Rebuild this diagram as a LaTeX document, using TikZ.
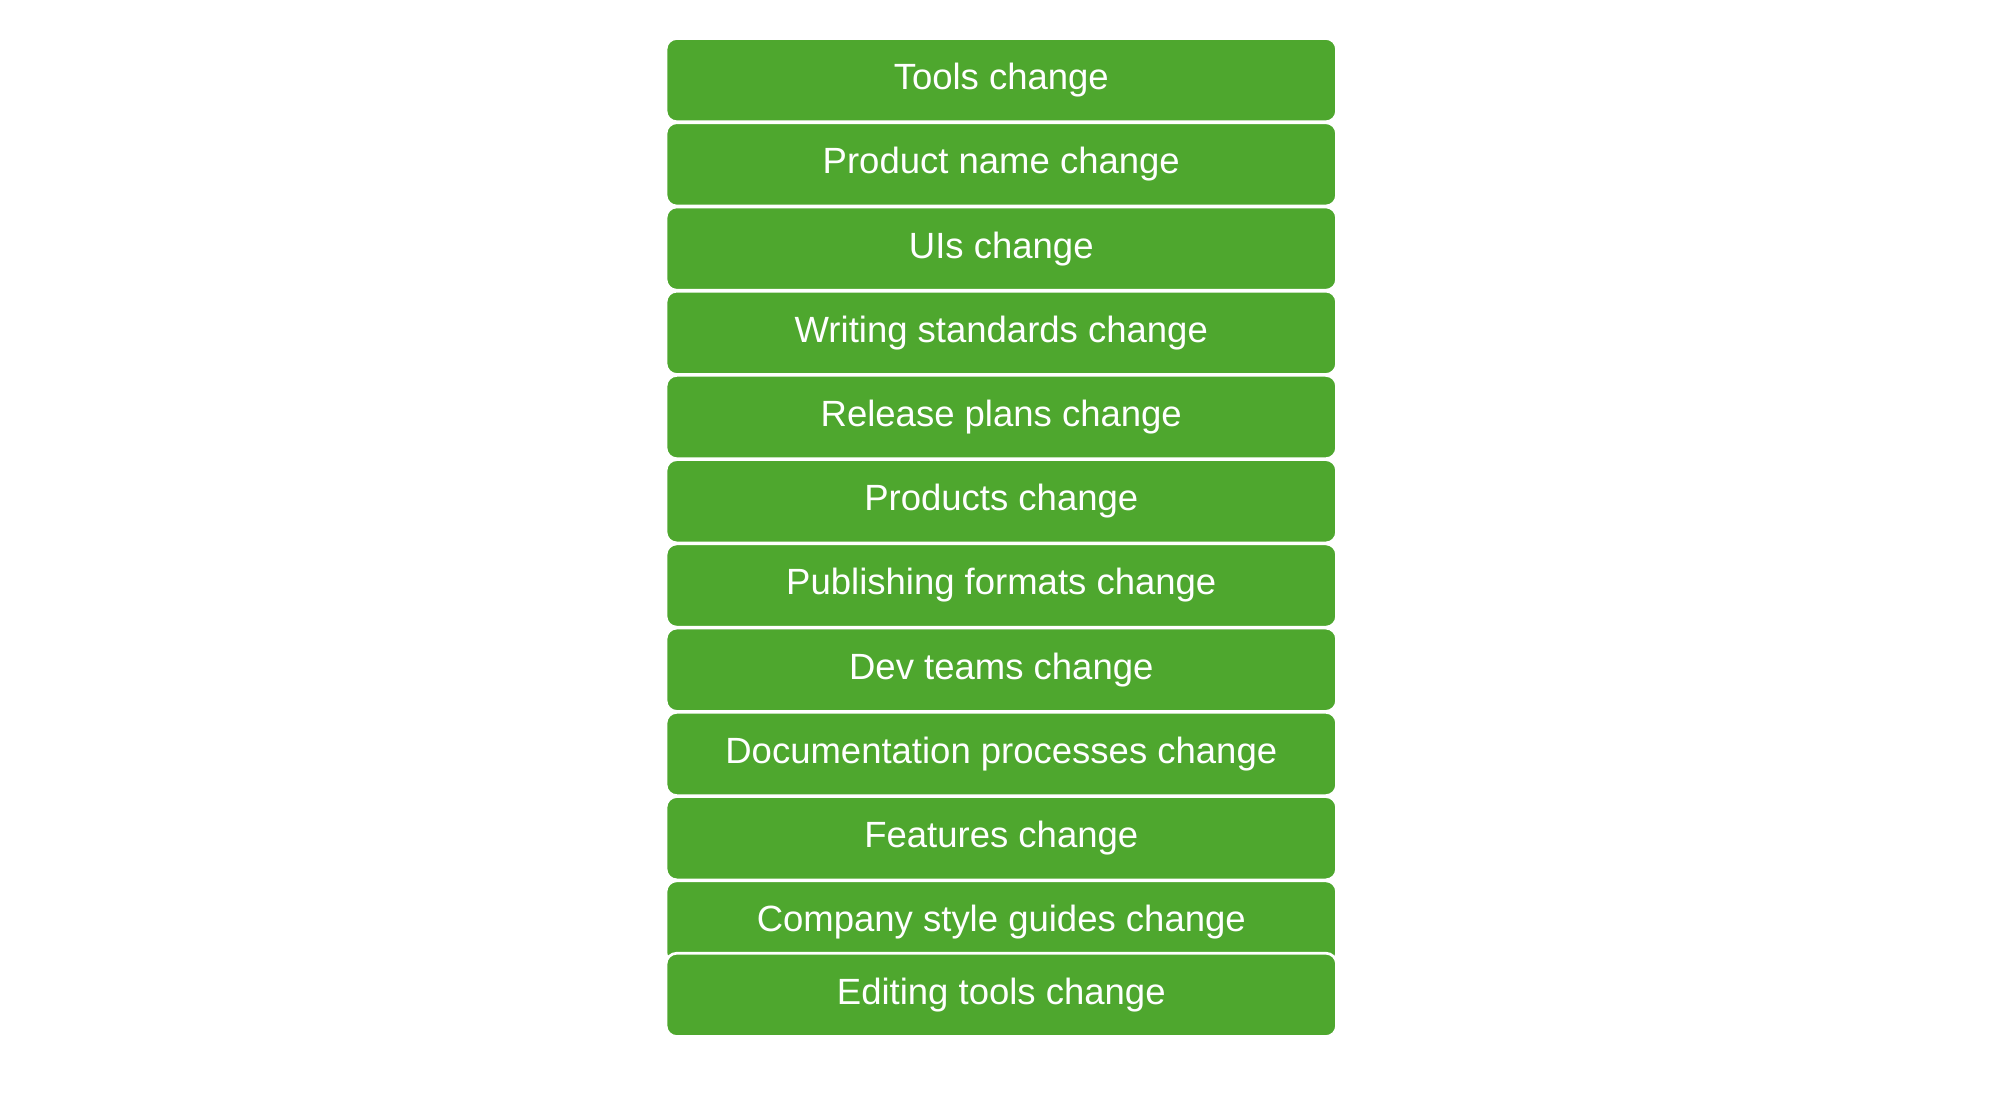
\documentclass[tikz,border=0pt]{standalone}
\usepackage{fontspec}
\setmainfont{Liberation Sans}
\definecolor{boxgreen}{HTML}{4EA72E}
\tikzset{changebox/.style={draw=white, line width=0.6pt, fill=boxgreen, rounded corners=2.4pt,
    minimum width=5.23cm, minimum height=0.65cm, text=white, font=\fontsize{8.1pt}{9pt}\selectfont}}
\begin{document}
\begin{tikzpicture}
		\useasboundingbox (0,0) rectangle (15.6,-8.55);

		% Stacked boxes
		\foreach \i/\txt in {1/Tools change, 2/Product name change, 3/UIs change,
		  4/Writing standards change, 5/Release plans change, 6/Products change,
		  7/Publishing formats change, 8/Dev teams change,
		  9/Documentation processes change, 10/Features change,
		  11/Company style guides change}
		  \node[changebox] (b\i) at (7.81, -0.625-0.657*\i+0.657) {\txt};

		% Last box overlaps the one above it
		\node[changebox] (b12) at (7.81, -7.76) {Editing tools change};
	\end{tikzpicture}
\end{document}
